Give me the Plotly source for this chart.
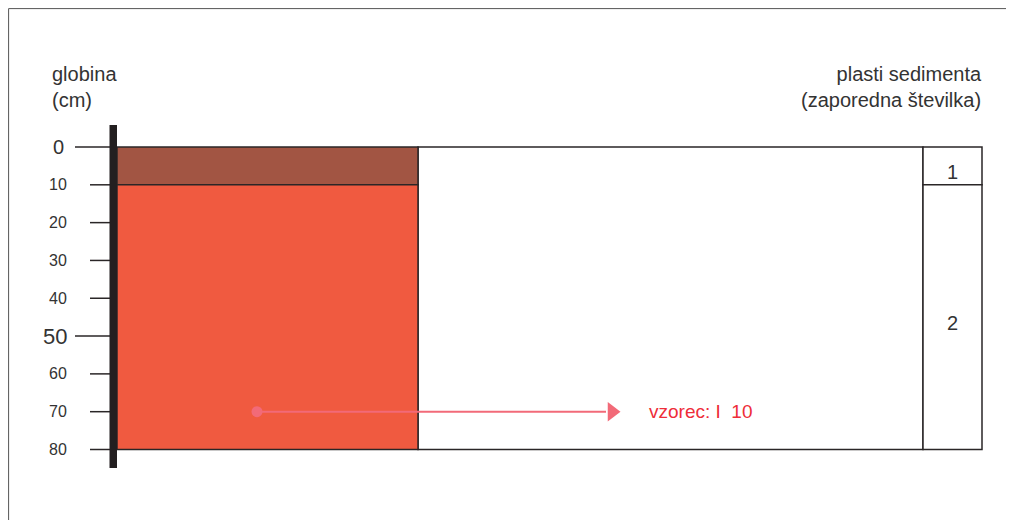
import plotly.graph_objects as go

# ---- data ----
depth_ticks = [0, 10, 20, 30, 40, 50, 60, 70, 80]
major_ticks = [0, 50]
layer_tops = [0, 10]
layer_bottoms = [10, 80]
layer_numbers = ["1", "2"]
layer_colors = ["#A25543", "#F05A40"]
sample_depth = 70
sample_label = "vzorec: I\u00a0\u00a010"
axis_title = "globina<br>(cm)"
layer_title = "plasti sedimenta<br>(zaporedna številka)"

# ---- layout constants (pixel-like x positions) ----
W, H = 1014, 520
OFF = 8                      # default page body margin
PX_TOP = 147.0
PPC = 302.5 / 80.0          # pixels per cm
def d(py):                   # pixel y -> depth
    return (py - PX_TOP) / PPC

FONT = "Liberation Sans, Arial, sans-serif"
DARK = "#2a2627"

col_x0, col_x1 = 117, 418
box_x1 = 923
num_x0, num_x1 = 923, 982

fig = go.Figure()
shapes = []
annotations = []

# outer frame (left + top)
shapes.append(dict(type="line", xref="x", yref="y", x0=8.6, x1=8.6, y0=d(8.6), y1=d(530),
                   line=dict(color="#555555", width=1), layer="below"))
shapes.append(dict(type="line", xref="x", yref="y", x0=8.6, x1=1020, y0=d(8.6), y1=d(8.6),
                   line=dict(color="#555555", width=1), layer="below"))

# white profile box
shapes.append(dict(type="rect", xref="x", yref="y", x0=col_x1, x1=box_x1,
                   y0=layer_tops[0], y1=layer_bottoms[-1], layer="below",
                   fillcolor="white", line=dict(color=DARK, width=1.5)))

# layers
for top, bot, num, col in zip(layer_tops, layer_bottoms, layer_numbers, layer_colors):
    shapes.append(dict(type="rect", xref="x", yref="y", x0=col_x0, x1=col_x1, y0=top, y1=bot,
                       fillcolor=col, line=dict(color=DARK, width=1.5), layer="below"))
    shapes.append(dict(type="rect", xref="x", yref="y", x0=num_x0, x1=num_x1, y0=top, y1=bot,
                       fillcolor="white", line=dict(color=DARK, width=1.5), layer="below"))
    annotations.append(dict(x=(num_x0 + num_x1) / 2, y=(top + bot) / 2, xref="x", yref="y",
                            text=num, showarrow=False, yshift=-6,
                            font=dict(family=FONT, size=20, color="#333333")))

# depth ticks
for t in depth_ticks:
    major = t in major_ticks
    x0 = 75 if major else 90
    shapes.append(dict(type="line", xref="x", yref="y", x0=x0, x1=110, y0=t, y1=t,
                       line=dict(color=DARK, width=1.5), layer="below"))
    size = (22 if t == 50 else 20) if major else 16
    xr = 66 if t == 0 else 69
    annotations.append(dict(x=xr, y=t, xref="x", yref="y", text=str(t), showarrow=False,
                            xanchor="right", yanchor="middle",
                            font=dict(family=FONT, size=size, color="#333333")))

# thick depth bar
shapes.append(dict(type="rect", xref="x", yref="y", x0=109.5, x1=117, y0=d(125), y1=d(468),
                   fillcolor="#231F20", line=dict(width=0)))

# titles
annotations.append(dict(x=50, y=d(87), xref="x", yref="y", text=axis_title, showarrow=False,
                        xanchor="left", yanchor="middle", align="left",
                        font=dict(family=FONT, size=20, color="#333333")))
annotations.append(dict(x=984, y=d(87), xref="x", yref="y", text=layer_title, showarrow=False,
                        xanchor="right", yanchor="middle", align="right",
                        font=dict(family=FONT, size=20, color="#333333")))

# sample arrow
arrow_col = "#F26A78"
fig.add_trace(go.Scatter(x=[257, 606], y=[sample_depth, sample_depth], mode="lines",
                         line=dict(color=arrow_col, width=2), hoverinfo="skip", showlegend=False))
fig.add_trace(go.Scatter(x=[257], y=[sample_depth], mode="markers",
                         marker=dict(color=arrow_col, size=11), hoverinfo="skip", showlegend=False))
fig.add_trace(go.Scatter(x=[612], y=[sample_depth], mode="markers",
                         marker=dict(color=arrow_col, size=17, symbol="triangle-right"),
                         hoverinfo="skip", showlegend=False))
annotations.append(dict(x=647, y=sample_depth, xref="x", yref="y", text=sample_label,
                        showarrow=False, xanchor="left", yanchor="middle",
                        font=dict(family=FONT, size=19, color="#EE2D38")))

fig.update_layout(
    width=W - OFF, height=H - OFF,
    margin=dict(l=0, r=0, t=0, b=0),
    paper_bgcolor="white", plot_bgcolor="white",
    shapes=shapes, annotations=annotations,
    xaxis=dict(range=[OFF, W], visible=False, fixedrange=True),
    yaxis=dict(range=[d(H), d(OFF)], visible=False, fixedrange=True),
    showlegend=False,
)
fig.write_html("out.html")
